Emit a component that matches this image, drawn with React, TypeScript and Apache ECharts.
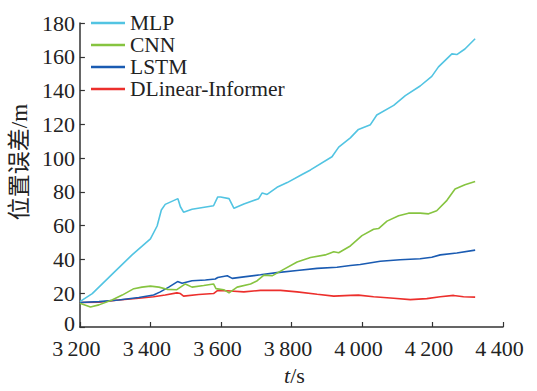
import React, { useEffect, useRef } from "react";
import * as echarts from "echarts";

const seriesNames = ["MLP", "CNN", "LSTM", "DLinear-Informer"];
const seriesColors = ["#52C4E2", "#86C440", "#1A5BB2", "#EC2F2C"];

const xTicks = [3200, 3400, 3600, 3800, 4000, 4200, 4400];
const yTicks = [0, 20, 40, 60, 80, 100, 120, 140, 160, 180];

const tMLP = [3200, 3235, 3291, 3348, 3400, 3419, 3431, 3442, 3478, 3485, 3494, 3518, 3579, 3591, 3599, 3623, 3637, 3665, 3707, 3717, 3731, 3759, 3788, 3830, 3854, 3915, 3934, 3967, 3990, 4024, 4042, 4090, 4123, 4165, 4198, 4217, 4255, 4269, 4292, 4321];
const vMLP = [15, 19.8, 31.2, 42.7, 52.2, 59.8, 69.3, 72.6, 76, 71.2, 68, 69.7, 71.8, 77, 77, 76, 70.3, 72.8, 76, 79.4, 78.5, 82.7, 85.5, 90.3, 93, 100.8, 106.5, 112, 117, 119.8, 125.5, 131.2, 137, 142.7, 148.4, 154, 161.7, 161.3, 164.6, 170.7];

const tCNN = [3200, 3230, 3254, 3291, 3320, 3353, 3376, 3400, 3424, 3447, 3475, 3499, 3518, 3551, 3579, 3586, 3608, 3623, 3646, 3684, 3703, 3722, 3745, 3769, 3816, 3854, 3896, 3920, 3934, 3967, 4000, 4033, 4047, 4071, 4104, 4132, 4165, 4189, 4212, 4241, 4264, 4292, 4321];
const vCNN = [14.1, 11.8, 13.1, 16, 18.9, 22.7, 23.6, 24.2, 23.6, 22.3, 22.1, 25.5, 23.6, 24.6, 25.5, 22.7, 22.1, 20.2, 23.6, 25.5, 27.4, 30.7, 30.3, 33.1, 38.5, 41.1, 42.7, 44.6, 44, 48, 54.1, 57.9, 58.3, 62.7, 65.9, 67.4, 67.4, 67, 68.8, 75, 81.7, 84.2, 86.1];

const tLSTM = [3200, 3254, 3310, 3367, 3409, 3428, 3452, 3477, 3490, 3518, 3556, 3584, 3591, 3618, 3632, 3665, 3712, 3759, 3816, 3873, 3929, 3967, 3995, 4052, 4108, 4165, 4198, 4222, 4269, 4321];
const vLSTM = [14.5, 15, 16, 17.5, 18.9, 20.8, 23.6, 26.9, 25.9, 27.4, 27.8, 28.4, 29.3, 30.3, 28.8, 29.7, 30.9, 32.2, 33.5, 34.7, 35.4, 36.4, 37, 38.9, 39.8, 40.4, 41.3, 42.7, 43.8, 45.5];

const tDLI = [3200, 3254, 3310, 3367, 3409, 3442, 3475, 3485, 3494, 3537, 3579, 3591, 3627, 3665, 3712, 3769, 3816, 3873, 3920, 3967, 3990, 4033, 4090, 4137, 4184, 4222, 4260, 4288, 4321];
const vDLI = [14.5, 14.7, 16, 17, 17.9, 18.9, 20.2, 19.8, 18.3, 19.2, 19.8, 21.7, 21.3, 20.8, 21.7, 21.7, 20.8, 19.4, 18.3, 18.7, 18.9, 17.9, 17, 16.2, 16.8, 17.9, 18.7, 17.9, 17.7];

const allT = [tMLP, tCNN, tLSTM, tDLI];
const allV = [vMLP, vCNN, vLSTM, vDLI];

const FONT = "Liberation Serif";

export default function App() {
  const ref = useRef<HTMLDivElement>(null);
  useEffect(() => {
    if (!ref.current) return;
    const chart = echarts.init(ref.current, null, { renderer: "svg" });
    const fmtX = (v: number) => {
      const s = String(v);
      return s.slice(0, s.length - 3) + "\u2009" + s.slice(s.length - 3);
    };
    const fmtY = (v: number) => (v === 0 ? "{z|0}" : String(v));
    chart.setOption({
      animation: false,
      backgroundColor: "#ffffff",
      grid: { left: 79, right: 34, top: 23, bottom: 52, containLabel: false },
      legend: {
        orient: "vertical",
        left: 91,
        top: 12,
        padding: 0,
        itemGap: 0,
        itemWidth: 34,
        itemHeight: 2.5,
        icon: "rect",
        data: seriesNames,
        textStyle: { fontFamily: FONT, fontSize: 21.5, color: "#222", lineHeight: 21.5 },
      },
      xAxis: {
        type: "value",
        min: xTicks[0],
        max: xTicks[xTicks.length - 1],
        interval: 200,
        name: "{i|t}/s",
        nameLocation: "middle",
        nameGap: 37,
        nameTextStyle: {
          fontFamily: FONT,
          fontSize: 22,
          color: "#222",
          padding: [0, 0, 0, 6],
          rich: { i: { fontFamily: FONT, fontSize: 22, fontStyle: "italic", color: "#222" } },
        },
        axisLine: { lineStyle: { color: "#333", width: 1.5 } },
        axisTick: { inside: true, length: 5, lineStyle: { color: "#333", width: 1.2 } },
        axisLabel: {
          margin: 12,
          fontFamily: FONT,
          fontSize: 22,
          color: "#222",
          lineHeight: 18,
          formatter: fmtX,
          padding: [0, 7, 0, 0],
        },
        splitLine: { show: false },
      },
      yAxis: {
        type: "value",
        min: yTicks[0],
        max: yTicks[yTicks.length - 1],
        interval: 20,
        name: "位置误差/m",
        nameLocation: "middle",
        nameGap: 41,
        nameRotate: 90,
        nameTextStyle: {
          fontFamily: "Liberation Serif, Noto Sans CJK SC",
          fontSize: 23,
          color: "#222",
          padding: [0, 0, 0, 26],
        },
        axisLine: { show: true, lineStyle: { color: "#333", width: 1.5 } },
        axisTick: { show: true, inside: true, length: 5, lineStyle: { color: "#333", width: 1.2 } },
        axisLabel: {
          margin: 5,
          fontFamily: FONT,
          fontSize: 22,
          color: "#222",
          lineHeight: 14,
          formatter: fmtY,
          rich: {
            z: { fontFamily: FONT, fontSize: 22, color: "#222", lineHeight: 14, padding: [0, 0, 7, 0] },
          },
        },
        splitLine: { show: false },
      },
      series: seriesNames.map((name, i) => ({
        name,
        type: "line",
        showSymbol: false,
        symbol: "none",
        color: seriesColors[i],
        lineStyle: { width: 1.6, color: seriesColors[i] },
        data: allT[i].map((t, j) => [t, allV[i][j]]),
        z: 10 - i,
      })),
    });
    return () => chart.dispose();
  }, []);
  return (
    <div
      ref={ref}
      style={{ position: "absolute", left: 0, top: 0, width: 537, height: 391 }}
    />
  );
}
